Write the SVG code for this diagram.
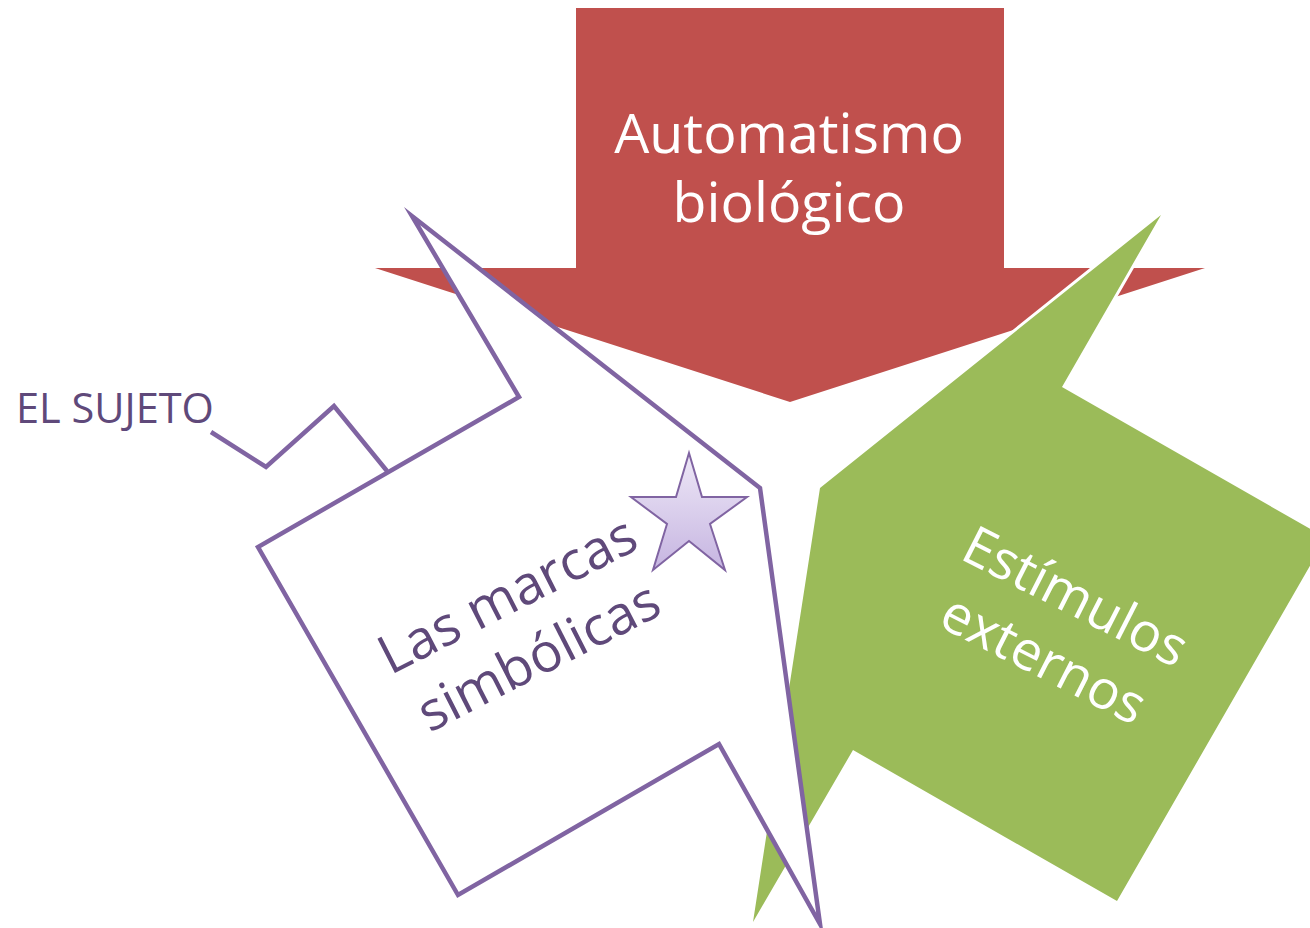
<svg xmlns="http://www.w3.org/2000/svg" width="1310" height="928" viewBox="0 0 1310 928">
<defs>
<linearGradient id="starGrad" x1="0" y1="0" x2="0" y2="1">
<stop offset="0" stop-color="#EEE8F7"/>
<stop offset="1" stop-color="#C6B5E1"/>
</linearGradient>
<style>
.lbl{font-family:"Open Sans","Noto Sans","Liberation Sans",sans-serif;text-anchor:middle}
.w{fill:#FFFFFF}
.p{fill:#5F497A}
.pl{fill:none;stroke:#8064A2;stroke-width:4.5;stroke-linejoin:miter;stroke-miterlimit:30}
</style>
</defs>
<rect width="1310" height="928" fill="#FFFFFF"/>
<g id="automatismo">
<polygon points="576,8 1004,8 1004,268 1205,268 790,402 375,268 576,268" fill="#C0504D"/>
<text class="lbl w" x="789" y="153" font-size="55.5">Automatismo</text>
<text class="lbl w" x="789" y="222" font-size="55.5">biológico</text>
</g>
<g id="estimulos">
<polygon points="820,488 1161,215 1062,387 1326,538 1117,901 853,750 753,922" fill="#9BBB59" stroke="#FFFFFF" stroke-width="6" stroke-linejoin="miter" stroke-miterlimit="30" paint-order="stroke"/>
<g transform="translate(1058,631) rotate(27)">
<text class="lbl w" x="0" y="-20" font-size="54">Estímulos</text>
<text class="lbl w" x="0" y="50" font-size="54">externos</text>
</g>
</g>
<g id="marcas">
<polygon class="pl" points="760,488 412,216 519,397 258,547 458,895 719,744 820,924" style="fill:#FFFFFF"/>
<g transform="translate(522,624) rotate(-27)">
<text class="lbl p" x="0" y="-14" font-size="54">Las marcas</text>
<text class="lbl p" x="0" y="55" font-size="54">simbólicas</text>
</g>
</g>
<g id="estrella">
<polygon points="689,453 702,497 747,497 710,524 725,570 689,541 653,570 667,524 631,497 676,497" fill="url(#starGrad)" stroke="#8064A2" stroke-width="2" stroke-linejoin="miter"/>
</g>
<g id="connectors">
<polyline class="pl" points="211,432 266,467 334,406 387,471"/>
</g>
<g id="sujeto">
<text x="16" y="423" font-family="Open Sans, Noto Sans, Liberation Sans, sans-serif" font-size="41.5" fill="#5F497A">EL SUJETO</text>
</g>
</svg>
